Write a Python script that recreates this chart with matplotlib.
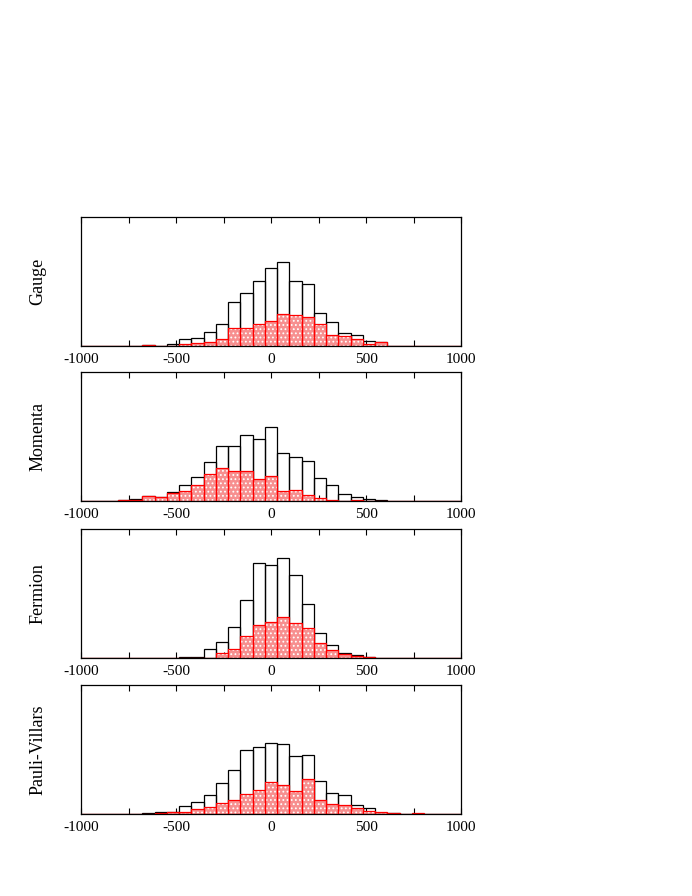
import numpy as np
import matplotlib
matplotlib.use("Agg")
import matplotlib.pyplot as plt
from matplotlib.ticker import MultipleLocator

plt.rcParams['font.family'] = ['Liberation Serif', 'DejaVu Serif']
plt.rcParams['hatch.linewidth'] = 0.8

# 31 bins spanning -1000..1000, heights in arbitrary units
panel_names = ["Gauge", "Momenta", "Fermion", "Pauli-Villars"]

gauge_all = [0, 0, 0, 0, 0, 3, 0, 7, 20, 25, 43, 68, 132, 159, 198, 235,
             253, 198, 186, 99, 72, 39, 34, 16, 13, 0, 0, 0, 0, 0, 0]
gauge_sel = [0, 0, 0, 0, 0, 3, 0, 0, 6, 9, 12, 20, 53, 53, 67, 77,
             98, 95, 88, 68, 34, 29, 20, 7, 13, 0, 0, 0, 0, 0, 0]

momenta_all = [0, 0, 0, 2, 5, 15, 13, 27, 49, 73, 117, 165, 165, 200, 186, 224,
               144, 132, 121, 70, 48, 22, 12, 6, 2, 0, 0, 0, 0, 0, 0]
momenta_sel = [0, 0, 0, 2, 4, 16, 13, 24, 30, 48, 82, 99, 90, 90, 66, 75,
               31, 33, 17, 9, 3, 0, 4, 0, 0, 0, 0, 0, 0, 0, 0]

fermion_all = [0, 0, 0, 0, 0, 0, 0, 0, 2, 3, 28, 49, 95, 175, 288, 280,
               301, 250, 163, 77, 40, 16, 10, 3, 0, 0, 0, 0, 0, 0, 0]
fermion_sel = [0, 0, 0, 0, 0, 0, 0, 0, 0, 0, 0, 16, 28, 68, 100, 110,
               123, 106, 90, 45, 23, 11, 7, 3, 0, 0, 0, 0, 0, 0, 0]

pv_all = [0, 0, 0, 0, 0, 3, 5, 5, 25, 35, 56, 95, 134, 195, 203, 216,
          213, 175, 179, 101, 63, 57, 28, 17, 4, 2, 0, 0, 0, 0, 0]
pv_sel = [0, 0, 0, 0, 0, 0, 3, 5, 7, 15, 21, 34, 42, 60, 74, 98,
          87, 71, 107, 42, 30, 27, 18, 9, 5, 3, 0, 3, 0, 0, 0]

all_counts = [gauge_all, momenta_all, fermion_all, pv_all]
sel_counts = [gauge_sel, momenta_sel, fermion_sel, pv_sel]

edges = np.linspace(-1000, 1000, 32)
width = edges[1] - edges[0]

fig = plt.figure(figsize=(6.92, 8.96), dpi=100)
W, H = 692.0, 896.0
tops = [217, 372, 529, 685]
ax_h = 129

for i in range(4):
    ax = fig.add_axes([81 / W, 1 - (tops[i] + ax_h) / H, 380 / W, ax_h / H])
    ax.bar(edges[:-1], all_counts[i], width=width, align='edge',
           fill=False, edgecolor='black', linewidth=0.9, zorder=2)
    # dotted fill: pink face with white dots, then red outline on top
    ax.bar(edges[:-1], sel_counts[i], width=width, align='edge',
           facecolor='#f78f8f', edgecolor='white', hatch='....',
           linewidth=0, zorder=3)
    ax.bar(edges[:-1], sel_counts[i], width=width, align='edge',
           fill=False, edgecolor='red', linewidth=0.9, zorder=4)
    ax.set_xlim(-1000, 1000)
    ax.set_ylim(0, 390)
    ax.set_yticks([])
    ax.xaxis.set_major_locator(MultipleLocator(500))
    ax.xaxis.set_minor_locator(MultipleLocator(250))
    ax.tick_params(axis='x', which='both', direction='in', top=True,
                   length=4, width=0.8, labelsize=11, pad=5)
    ax.set_xticklabels([str(int(v)) for v in ax.get_xticks()])
    for s in ax.spines.values():
        s.set_linewidth(0.9)
        s.set_zorder(5)
    fig.text(38 / W, 1 - (tops[i] + ax_h / 2) / H, panel_names[i],
             rotation=90, ha='center', va='center', fontsize=13)

fig.savefig("out.png", dpi=100)
